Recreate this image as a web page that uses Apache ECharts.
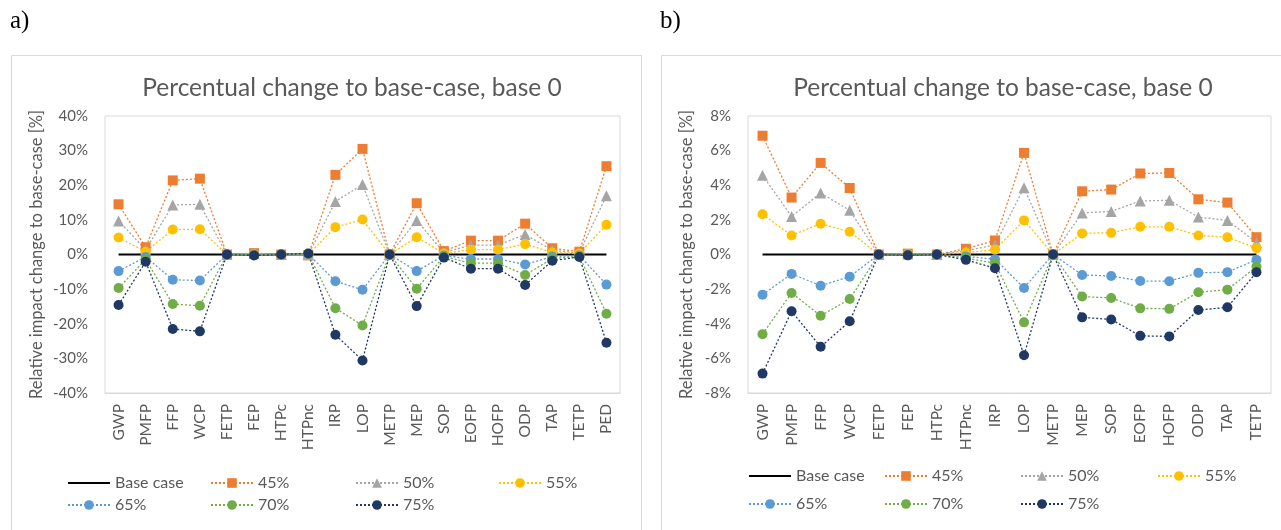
<!DOCTYPE html>
<html>
<head>
<meta charset="utf-8">
<script src="https://cdn.jsdelivr.net/npm/echarts@6/dist/echarts.min.js"></script>
<style>
html,body{margin:0;padding:0;background:#fff;}
#chart{width:1281px;height:530px;}
</style>
</head>
<body>
<div id="chart"></div>
<script>
// ---- Data (values in %) ----
const categoriesA = ['GWP','PMFP','FFP','WCP','FETP','FEP','HTPc','HTPnc','IRP','LOP','METP','MEP','SOP','EOFP','HOFP','ODP','TAP','TETP','PED'];
const categoriesB = ['GWP','PMFP','FFP','WCP','FETP','FEP','HTPc','HTPnc','IRP','LOP','METP','MEP','SOP','EOFP','HOFP','ODP','TAP','TETP'];
const seriesNames = ['Base case','45%','50%','55%','65%','70%','75%'];

const baseA = [0,0,0,0,0,0,0,0,0,0,0,0,0,0,0,0,0,0,0];
const a45 = [14.5, 2.1, 21.4, 21.9, 0, 0.4, 0, -0.2, 23.0, 30.5, 0, 14.8, 1.0, 4.0, 4.0, 8.9, 1.8, 0.8, 25.5];
const a50 = [9.7, 1.4, 14.3, 14.5, 0, 0.3, 0, -0.1, 15.3, 20.2, 0, 9.8, 0.6, 2.7, 2.7, 5.8, 1.2, 0.5, 17.0];
const a55 = [4.9, 0.8, 7.2, 7.3, 0, 0.1, 0, 0.0, 7.9, 10.1, 0, 5.0, 0.3, 1.4, 1.4, 3.0, 0.6, 0.3, 8.6];
const a65 = [-4.8, -0.7, -7.3, -7.5, 0, -0.1, 0, 0.1, -7.7, -10.2, 0, -4.8, -0.3, -1.3, -1.3, -2.9, -0.6, -0.3, -8.7];
const a70 = [-9.7, -1.4, -14.3, -14.8, 0, -0.2, 0, 0.2, -15.5, -20.5, 0, -9.9, -0.6, -2.5, -2.5, -5.9, -1.2, -0.5, -17.1];
const a75 = [-14.6, -2.1, -21.5, -22.2, 0, -0.3, 0, 0.3, -23.2, -30.6, 0, -14.9, -0.9, -4.1, -4.1, -8.8, -1.8, -0.7, -25.5];

const baseB = [0,0,0,0,0,0,0,0,0,0,0,0,0,0,0,0,0,0];
const b45 = [6.86, 3.29, 5.29, 3.84, 0, 0.05, 0, 0.33, 0.81, 5.87, 0, 3.65, 3.75, 4.68, 4.71, 3.19, 3.00, 1.00];
const b50 = [4.58, 2.20, 3.55, 2.55, 0, 0.03, 0, 0.22, 0.55, 3.86, 0, 2.40, 2.49, 3.09, 3.13, 2.16, 1.97, 0.70];
const b55 = [2.32, 1.10, 1.78, 1.31, 0, 0.02, 0, 0.11, 0.28, 1.97, 0, 1.22, 1.26, 1.60, 1.60, 1.10, 1.00, 0.37];
const b65 = [-2.32, -1.12, -1.80, -1.28, 0, -0.02, 0, -0.11, -0.27, -1.93, 0, -1.18, -1.24, -1.53, -1.54, -1.06, -1.02, -0.30];
const b70 = [-4.60, -2.22, -3.54, -2.57, 0, -0.03, 0, -0.21, -0.50, -3.92, 0, -2.43, -2.51, -3.11, -3.14, -2.18, -2.03, -0.70];
const b75 = [-6.88, -3.28, -5.33, -3.86, 0, -0.05, 0, -0.31, -0.79, -5.82, 0, -3.63, -3.75, -4.70, -4.73, -3.21, -3.05, -1.03];

const yTicksA = [-40,-30,-20,-10,0,10,20,30,40];
const yTicksB = [-8,-6,-4,-2,0,2,4,6,8];

// ---- Styles ----
const FONT = 'Lato';
const GREY_TXT = '#595959';
const styles = {
  'Base case': {color:'#000000', symbol:'none', size:0},
  '45%': {color:'#ED7D31', symbol:'rect', size:10},
  '50%': {color:'#A5A5A5', symbol:'triangle', size:11},
  '55%': {color:'#FFC000', symbol:'circle', size:10},
  '65%': {color:'#5B9BD5', symbol:'circle', size:10},
  '70%': {color:'#70AD47', symbol:'circle', size:10},
  '75%': {color:'#203864', symbol:'circle', size:10}
};

function makeSeries(name, data, axisIdx){
  const s = styles[name];
  if (name === 'Base case') {
    return {name, type:'line', data, xAxisIndex:axisIdx*2, yAxisIndex:axisIdx,
      symbol:'none', silent:true, z:2,
      lineStyle:{color:'#000', width:2, type:'solid'}, itemStyle:{color:'#000'}};
  }
  return {name, type:'line', data, xAxisIndex:axisIdx*2, yAxisIndex:axisIdx,
    symbol:s.symbol, symbolSize:s.size, showSymbol:true, z:3,
    lineStyle:{color:s.color, width:1.3, type:[2,2]},
    itemStyle:{color:s.color, borderWidth:0}};
}

const seriesA = [baseA,a45,a50,a55,a65,a70,a75].map((d,i)=>makeSeries(seriesNames[i], d, 0));
const seriesB = [baseB,b45,b50,b55,b65,b70,b75].map((d,i)=>makeSeries(seriesNames[i], d, 1));

function xAxes(cats, gridIndex){
  return [
    {type:'category', data:cats, gridIndex, boundaryGap:true,
      axisLine:{show:false}, axisTick:{show:false},
      axisLabel:{rotate:90, color:GREY_TXT, fontSize:15.5, fontFamily:FONT, margin:11, interval:0}},
    {type:'category', data:cats, gridIndex, boundaryGap:true, position:'bottom',
      axisLine:{show:true, onZero:true, lineStyle:{color:'#d9d9d9', width:1}},
      axisTick:{show:false}, axisLabel:{show:false}, splitLine:{show:false}}
  ];
}
function yAxis(gridIndex, ticks, nameGap){
  return {type:'value', gridIndex, min:ticks[0], max:ticks[ticks.length-1], interval:ticks[1]-ticks[0],
    name:'Relative impact change to base-case [%]', nameLocation:'middle', nameGap,
    nameTextStyle:{color:GREY_TXT, fontSize:16.5, fontFamily:FONT},
    axisLine:{show:false}, axisTick:{show:false}, splitLine:{show:false},
    axisLabel:{color:GREY_TXT, fontSize:15, fontFamily:FONT, margin:17, formatter:'{value}%'}};
}

function legendItem(name){
  if (name === 'Base case') return {name, itemStyle:{opacity:0}};
  return {name};
}
function legendCol(names, left, top, gap){
  return {orient:'vertical', left, top, padding:0, itemGap:gap, itemWidth:42, itemHeight:12,
    data:names.map(legendItem), selectedMode:false,
    textStyle:{color:GREY_TXT, fontSize:16, fontFamily:FONT, lineHeight:16}};
}

const option = {
  animation:false,
  backgroundColor:'#ffffff',
  grid:[
    {left:105, top:116, width:515, height:277, show:true, borderColor:'#d9d9d9', borderWidth:1, containLabel:false},
    {left:748, top:116, width:523, height:277, show:true, borderColor:'#d9d9d9', borderWidth:1, containLabel:false}
  ],
  xAxis:[...xAxes(categoriesA,0), ...xAxes(categoriesB,1)],
  yAxis:[yAxis(0, yTicksA, 60), yAxis(1, yTicksB, 53)],
  legend:[
    legendCol(['Base case','65%'], 67, 475, 6),
    legendCol(['45%','70%'], 210, 475, 6),
    legendCol(['50%','75%'], 355, 475, 6),
    legendCol(['55%'], 498, 475, 6),
    legendCol(['Base case','65%'], 748, 468, 12),
    legendCol(['45%','70%'], 884, 468, 12),
    legendCol(['50%','75%'], 1020, 468, 12),
    legendCol(['55%'], 1157, 468, 12)
  ],
  graphic:[
    {type:'rect', shape:{x:11.5, y:55.5, width:630, height:520}, style:{fill:'none', stroke:'#d9d9d9', lineWidth:1}, silent:true, z:-1},
    {type:'rect', shape:{x:661.5, y:55.5, width:700, height:520}, style:{fill:'none', stroke:'#d9d9d9', lineWidth:1}, silent:true, z:-1},
    {type:'text', x:10, y:21, style:{text:'a)', font:'25px "Liberation Serif"', fill:'#000', textVerticalAlign:'middle'}},
    {type:'text', x:660, y:21, style:{text:'b)', font:'25px "Liberation Serif"', fill:'#000', textVerticalAlign:'middle'}},
    {type:'text', x:352, y:88, style:{text:'Percentual change to base-case, base 0', font:'24.5px Lato', fill:GREY_TXT, textAlign:'center', textVerticalAlign:'middle'}},
    {type:'text', x:1003, y:88, style:{text:'Percentual change to base-case, base 0', font:'24.5px Lato', fill:GREY_TXT, textAlign:'center', textVerticalAlign:'middle'}}
  ],
  series:[...seriesA, ...seriesB]
};

const chart = echarts.init(document.getElementById('chart'), null, {renderer:'canvas'});
chart.setOption(option);
</script>
</body>
</html>
